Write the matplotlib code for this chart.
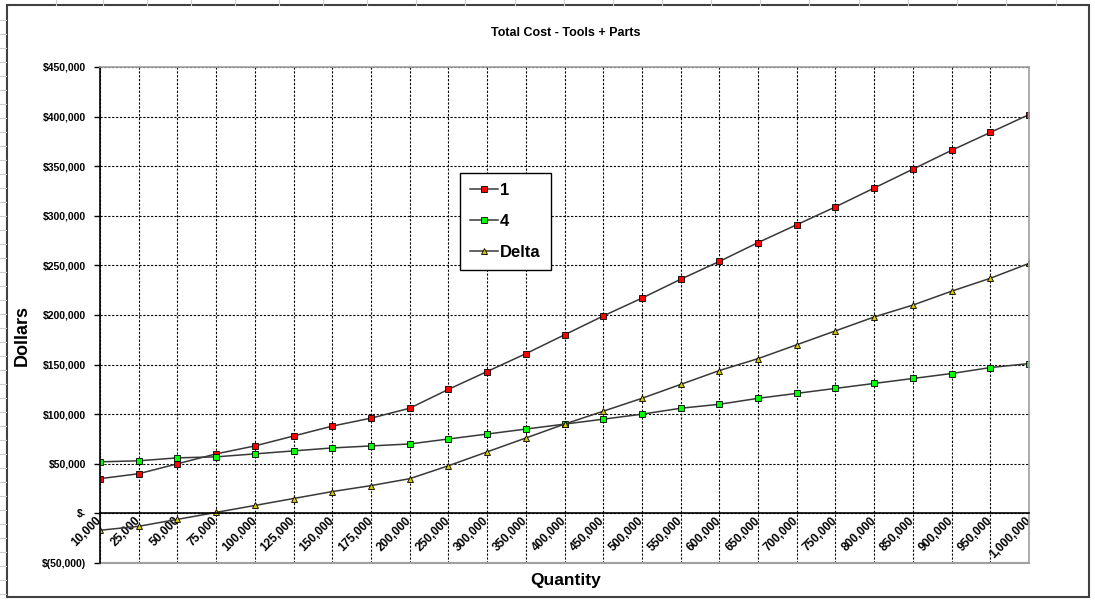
import matplotlib.pyplot as plt
from matplotlib.ticker import FuncFormatter
from matplotlib.patches import Rectangle
from matplotlib.lines import Line2D

plt.rcParams['font.family'] = ['Liberation Sans', 'DejaVu Sans']
plt.rcParams['font.weight'] = 'bold'

quantities = ['10,000', '25,000', '50,000', '75,000', '100,000', '125,000', '150,000',
              '175,000', '200,000', '250,000', '300,000', '350,000', '400,000', '450,000',
              '500,000', '550,000', '600,000', '650,000', '700,000', '750,000', '800,000',
              '850,000', '900,000', '950,000', '1,000,000']
cost_1 = [35000, 40000, 50000, 60000, 68000, 78000, 88000, 96000, 106000, 125000,
          143000, 161000, 180000, 199000, 217000, 236000, 254000, 273000, 291000,
          309000, 328000, 347000, 366000, 384000, 402000]
cost_4 = [52000, 53000, 56000, 57000, 60000, 63000, 66000, 68000, 70000, 75000,
          80000, 85000, 90000, 95000, 100000, 106000, 110000, 116000, 121000,
          126000, 131000, 136000, 141000, 147000, 151000]
delta = [-17000, -13000, -6000, 1000, 8000, 15000, 22000, 28000, 35000, 48000,
         62000, 76000, 90000, 103000, 116000, 130000, 144000, 156000, 170000,
         184000, 198000, 210000, 224000, 237000, 252000]
y_ticks = list(range(-50000, 450001, 50000))


def dollars(v, pos):
    if v == 0:
        return '$-'
    if v < 0:
        return '$({:,.0f})'.format(-v)
    return '${:,.0f}'.format(v)


fig = plt.figure(figsize=(10.95, 6.02), dpi=100)
ax = fig.add_axes([100 / 1095, 1 - 563 / 602, 929 / 1095, 496 / 602])

# category axis crosses at zero (set before the tick labels, it resets them)
ax.spines['bottom'].set_position(('data', 0))
ax.spines['bottom'].set_color('black')
ax.spines['bottom'].set_linewidth(1.2)
ax.spines['left'].set_color('black')
ax.spines['left'].set_linewidth(1.2)
for side in ['top', 'right']:
    ax.spines[side].set_color('#a0a0a0')
    ax.spines[side].set_linewidth(1.2)

x = range(len(quantities))
line_kw = dict(color='#383838', lw=1.1, markeredgecolor='black', markeredgewidth=0.6)
ax.plot(x, cost_1, marker='s', ms=4.5, markerfacecolor='#ff0000', label='1', **line_kw)
ax.plot(x, cost_4, marker='s', ms=4.5, markerfacecolor='#00ff00', label='4', **line_kw)
ax.plot(x, delta, marker='^', ms=5, markerfacecolor='#d4c800', label='Delta', **line_kw)

ax.set_xlim(0, len(quantities) - 1)
ax.set_ylim(-50000, 450000)
ax.set_yticks(y_ticks)
ax.yaxis.set_major_formatter(FuncFormatter(dollars))
ax.set_xticks(list(x))
ax.set_xticklabels(quantities, rotation=45, ha='right', va='center',
                   rotation_mode='anchor', fontsize=8.5)
ax.tick_params(axis='x', length=0, pad=4)
ax.tick_params(axis='y', length=4, width=1, direction='out', labelsize=7.5, pad=6)

ax.grid(True, color='black', lw=0.8, linestyle=(0, (2, 1.5)))
ax.set_axisbelow(True)
ax.axhline(-50000, color='#a0a0a0', lw=1.5, clip_on=False, zorder=1)

fig.text(566 / 1095, 1 - 33 / 602, 'Total Cost - Tools + Parts', ha='center', va='center',
         fontsize=9, fontweight='bold')
fig.text(566 / 1095, 1 - 581 / 602, 'Quantity', ha='center', va='center',
         fontsize=12.5, fontweight='bold')
fig.text(22 / 1095, 1 - 335 / 602, 'Dollars', ha='center', va='center',
         rotation=90, fontsize=13, fontweight='bold')

leg = ax.legend(loc='upper left', bbox_to_anchor=((460 - 100) / 929, (563 - 173) / 496),
                borderaxespad=0, fancybox=False, framealpha=1, edgecolor='black',
                handlelength=1.7, handletextpad=0.1, labelspacing=0.95, borderpad=0.6,
                prop={'size': 12, 'weight': 'bold'})
leg.get_frame().set_linewidth(1.0)

# chart area border and surrounding sheet cells
fig.patches.append(Rectangle((7 / 1095, 5 / 602), 1082 / 1095, 592 / 602,
                             transform=fig.transFigure, fill=False,
                             edgecolor='#404040', lw=1.5))
for px in [56, 103, 147, 191, 235, 279, 323, 367, 416, 465, 515, 564, 613, 662,
           711, 760, 809, 859, 908, 957, 1006, 1056]:
    fig.add_artist(Line2D([px / 1095, px / 1095], [1 - 5 / 602, 1], color='#d0d0d0', lw=0.8))
for py in range(20, 600, 14):
    fig.add_artist(Line2D([0, 6 / 1095], [1 - py / 602, 1 - py / 602], color='#d0d0d0', lw=0.8))

fig.savefig('out.png', dpi=100)
